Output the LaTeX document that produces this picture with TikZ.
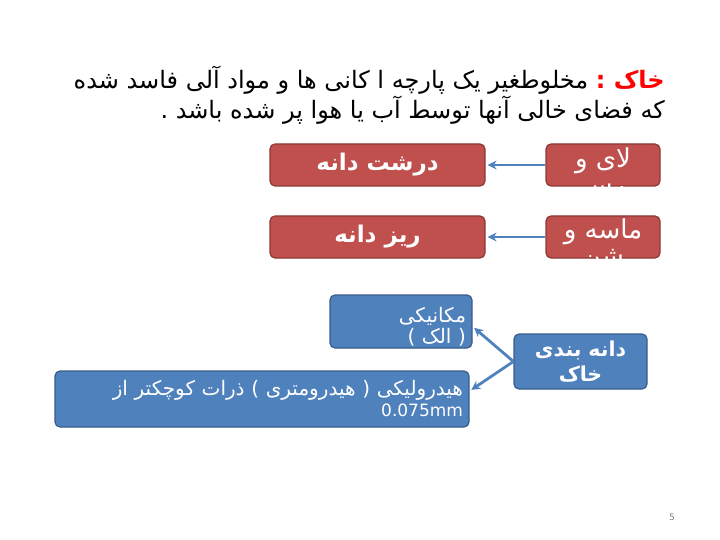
\documentclass[tikz,border=0pt]{standalone}
\usepackage{fontspec}
\setmainfont{DejaVu Sans}
\newfontfamily\farsi[Script=Arabic]{DejaVu Sans}
\TeXXeTstate=1
\usetikzlibrary{arrows.meta}
\definecolor{boxred}{RGB}{192,80,77}
\definecolor{boxredline}{RGB}{140,56,54}
\definecolor{boxblue}{RGB}{79,129,189}
\definecolor{boxblueline}{RGB}{56,93,138}
\newcommand{\fa}[1]{{\farsi\beginR #1\endR}}
\tikzset{
  redbox/.style={draw=boxredline, fill=boxred, line width=1.2pt, rounded corners=5pt, text=white, inner sep=0pt},
  bluebox/.style={draw=boxblueline, fill=boxblue, line width=1.2pt, rounded corners=5pt, text=white, inner xsep=6pt, inner ysep=0pt, align=right},
  link/.style={draw=boxblue, line width=2.8pt, -{Stealth[length=9pt,width=9pt]}, shorten >=2pt}
}

\begin{document}
\begin{tikzpicture}[x=1pt,y=-1pt]
\useasboundingbox [fill=white] (0,0) rectangle (720,540);
% title
\node (title) [anchor=north east, align=right, inner sep=0pt, font=\fontsize{24}{25}\selectfont] at (665,66)
  {\fa{مخلوطغیر یک پارچه ا کانی ها و مواد آلی فاسد شده}\ \textcolor{red}{\fa{\bfseries خاک :}}\\
   \fa{که فضای خالی آنها توسط آب یا هوا پر شده باشد .}};
% coarse / fine
\node (darsht) [redbox, minimum width=215, minimum height=42, font=\fontsize{23}{26}\selectfont\bfseries] at (377.5,165) {\fa{درشت دانه}};
\node (riz) [redbox, minimum width=215, minimum height=42, font=\fontsize{23}{26}\selectfont\bfseries] at (377.5,237) {\fa{ریز دانه}};
\node (lai) [redbox, minimum width=114, minimum height=42] at (603,165) {};
\node (laiT) [text=white, align=center, font=\fontsize{26}{26}\selectfont] at ([yshift=-9pt]lai.center) {\fa{لای و}\\ \fa{رس}};
\node (maseh) [redbox, minimum width=114, minimum height=42] at (603,237) {};
\node (masehT) [text=white, align=center, font=\fontsize{26}{26}\selectfont] at ([yshift=-8pt]maseh.center) {\fa{ماسه و}\\ \fa{شن}};
\draw [link] (lai) -- (darsht);
\draw [link] (maseh) -- (riz);
% grading
\node (mech) [bluebox, text width=130, minimum height=53, font=\fontsize{20}{21}\selectfont] at (401,321.5)
  {\rule{0pt}{25pt}\fa{مکانیکی}\\ \fa{( الک )}};
\node (dane) [bluebox, align=center, text width=121, minimum height=55, font=\fontsize{20.5}{25}\selectfont\bfseries] at (580.5,361.5)
  {\fa{دانه بندی}\\ \fa{خاک}};
\node (hyd) [bluebox, text width=402, minimum height=56, font=\fontsize{20}{21}\selectfont] at (262,399)
  {\fa{هیدرولیکی ( هیدرومتری ) ذرات کوچکتر از}\\ {\fontsize{17}{21}\selectfont 0.075mm}};
\draw [link] (dane.west) -- ([yshift=-5pt]mech.east);
\draw [link] (dane.west) -- ([yshift=8pt]hyd.east);
% page number
\node (pnum) [text=gray, font=\fontsize{9}{11}\selectfont] at (672,517) {5};
\end{tikzpicture}
\end{document}
